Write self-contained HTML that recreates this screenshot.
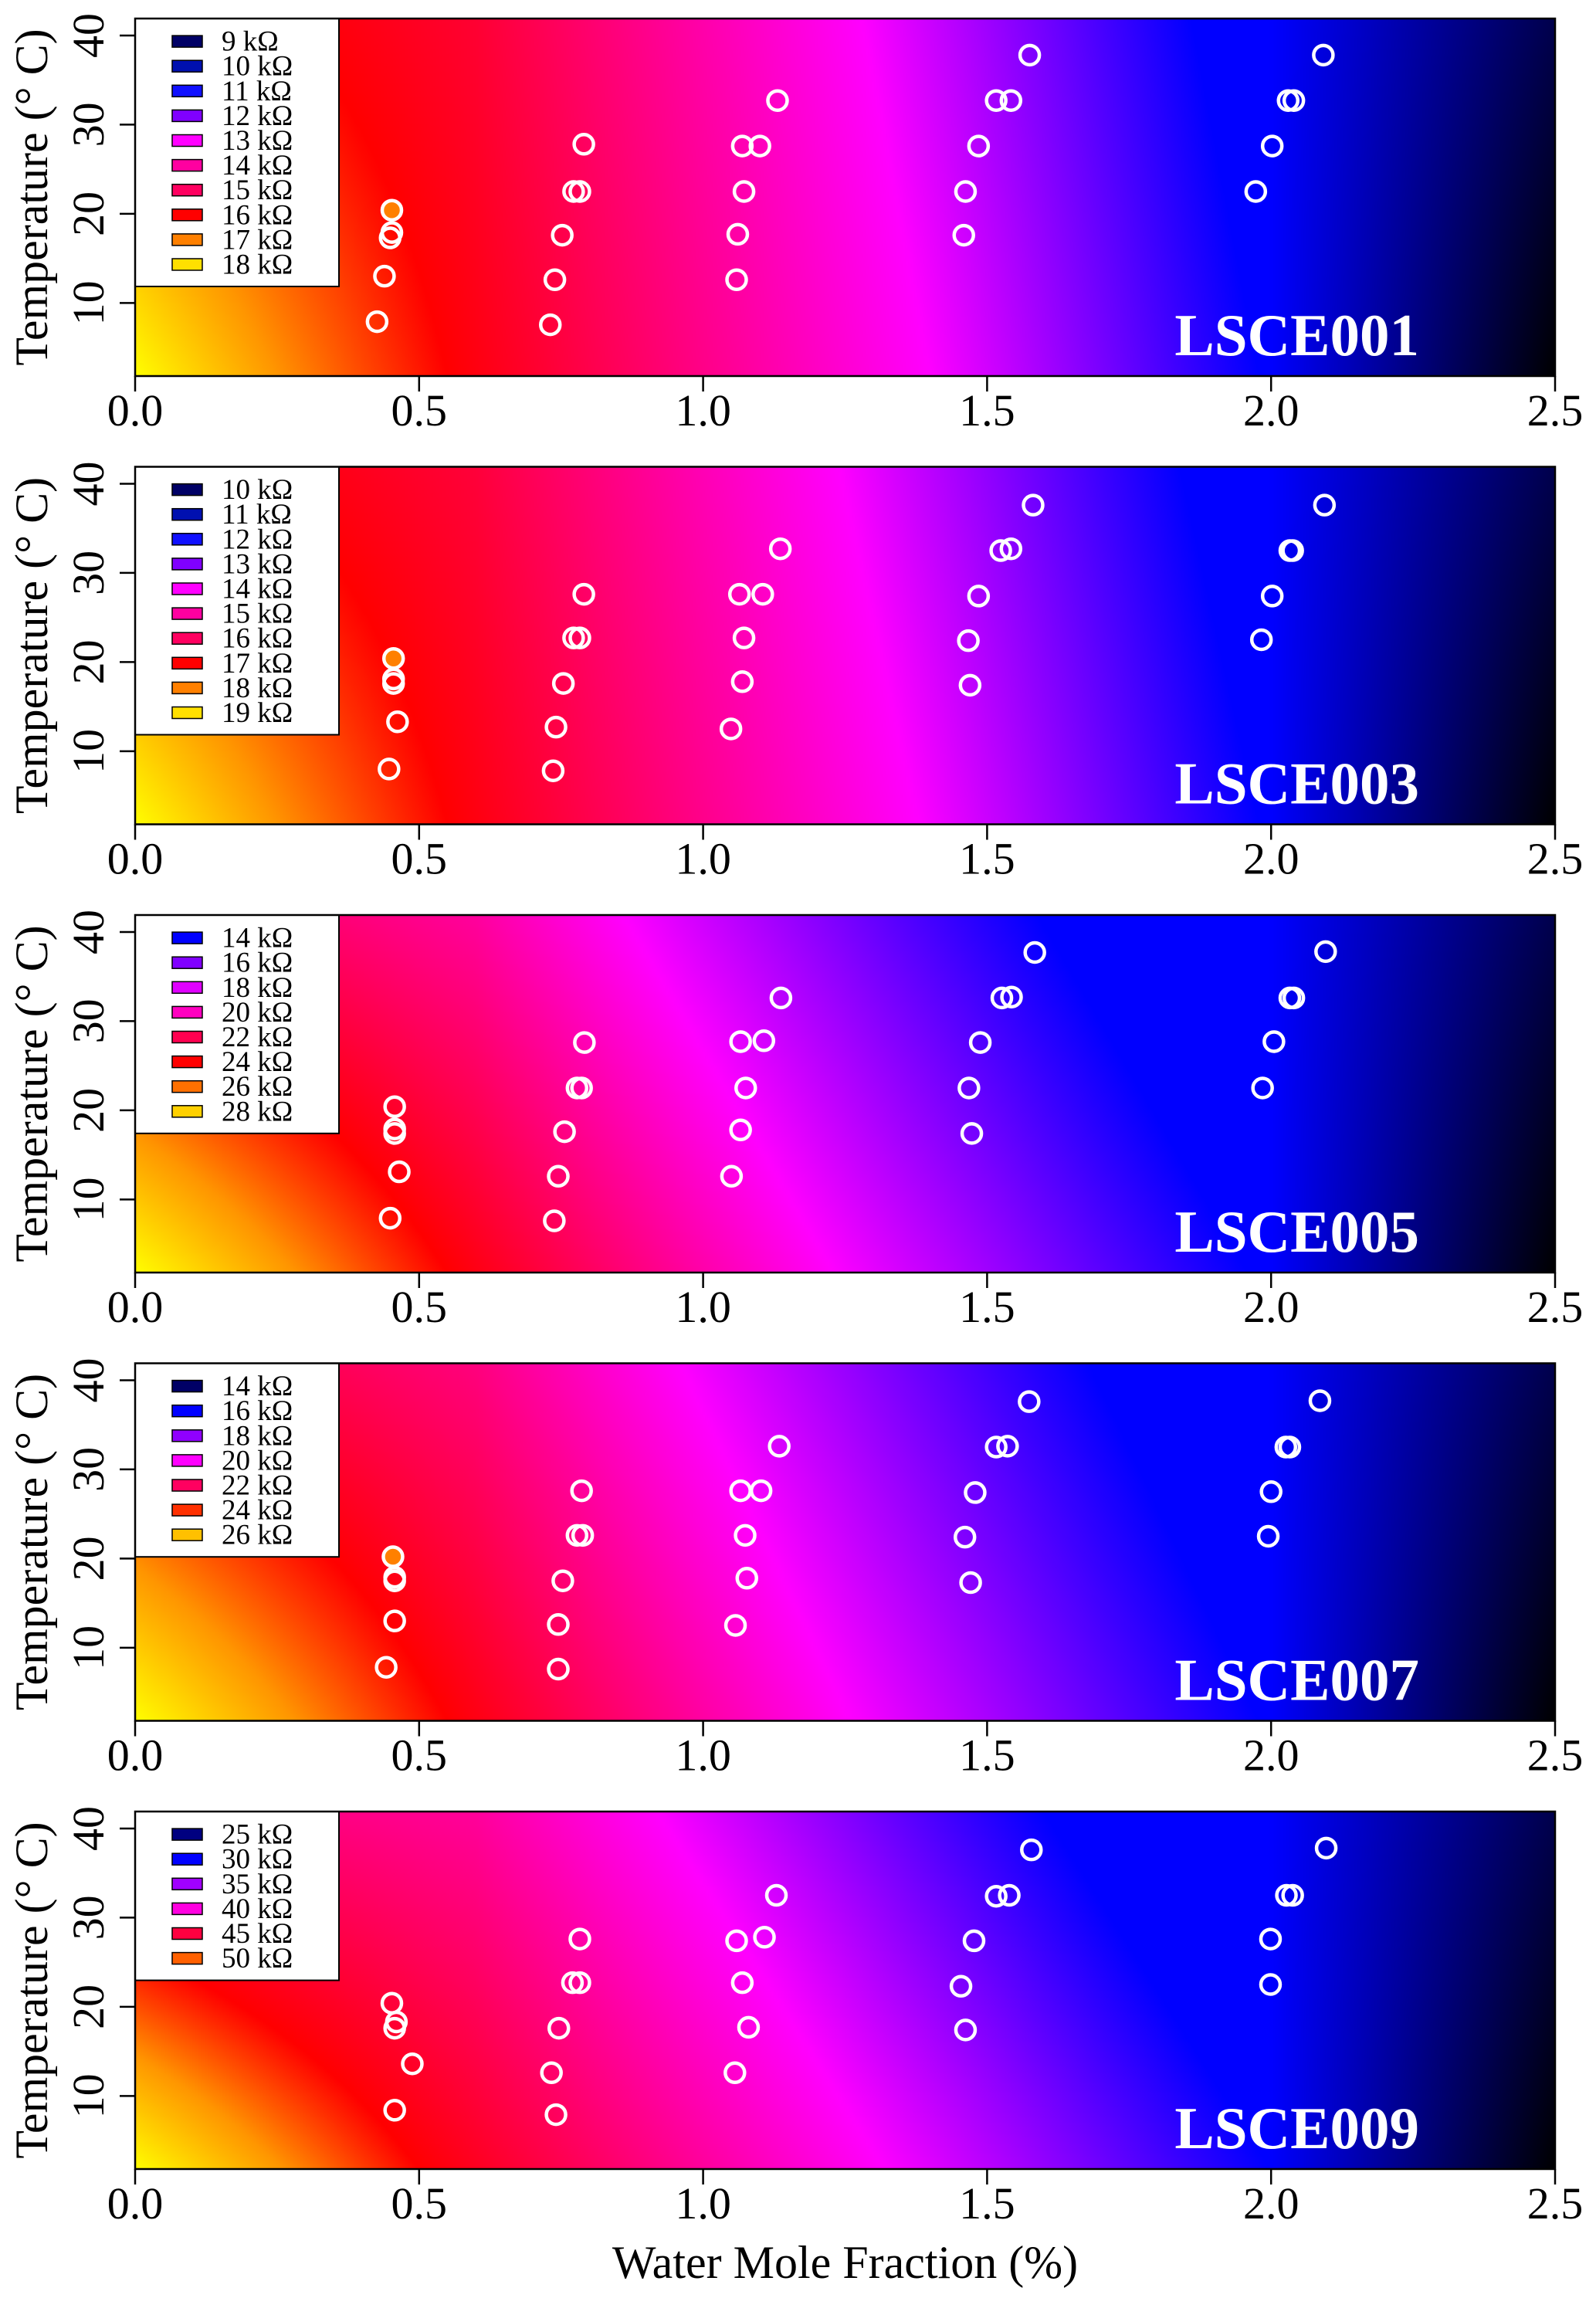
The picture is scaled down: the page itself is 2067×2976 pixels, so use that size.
<!DOCTYPE html>
<html><head><meta charset="utf-8"><style>
html,body{margin:0;padding:0;background:#fff;}
#wrap{position:relative;width:2067px;height:2976px;overflow:hidden;}
canvas{position:absolute;}
svg{position:absolute;left:0;top:0;}
text{font-family:"Liberation Serif",serif;}
</style></head><body>
<div id="wrap"></div>
<script>
// ---- data ----
const panelNames = ["LSCE001","LSCE003","LSCE005","LSCE007","LSCE009"];
const xTicks = [0,0.5,1.0,1.5,2.0,2.5];
const xTickLabels = ["0.0","0.5","1.0","1.5","2.0","2.5"];
const yTicks = [10,20,30,40];
const yTickLabels = ["10","20","30","40"];
const legend1 = ["9 kΩ","10 kΩ","11 kΩ","12 kΩ","13 kΩ","14 kΩ","15 kΩ","16 kΩ","17 kΩ","18 kΩ"];
const legend2 = ["10 kΩ","11 kΩ","12 kΩ","13 kΩ","14 kΩ","15 kΩ","16 kΩ","17 kΩ","18 kΩ","19 kΩ"];
const legend3 = ["14 kΩ","16 kΩ","18 kΩ","20 kΩ","22 kΩ","24 kΩ","26 kΩ","28 kΩ"];
const legend4 = ["14 kΩ","16 kΩ","18 kΩ","20 kΩ","22 kΩ","24 kΩ","26 kΩ"];
const legend5 = ["25 kΩ","30 kΩ","35 kΩ","40 kΩ","45 kΩ","50 kΩ"];
const legendCol1 = ["#000066","#0010B0","#1010FF","#8000FF","#FF00FF","#FF00A0","#FF0060","#FF0000","#FF8000","#FFE000"];
const legendCol2 = ["#000066","#0010B0","#1010FF","#8000FF","#FF00FF","#FF00A0","#FF0060","#FF0000","#FF8000","#FFE000"];
const legendCol3 = ["#0000FF","#8000FF","#E000FF","#FF00C0","#FF0050","#FF0000","#FF7000","#FFD000"];
const legendCol4 = ["#000066","#0000FF","#9000FF","#FF00FF","#FF0060","#FF3000","#FFC000"];
const legendCol5 = ["#000080","#0000FF","#A000FF","#FF00E0","#FF0040","#FF6000"];

const p1x = [0.426,0.439,0.449,0.452,0.452,0.731,0.739,0.752,0.772,0.783,0.790,1.059,1.061,1.072,1.069,1.100,1.131,1.459,1.462,1.485,1.516,1.542,1.575,1.973,2.002,2.030,2.040,2.092];
const p1y = [7.9,13.0,17.3,17.9,20.4,7.55,12.6,17.6,22.5,22.5,27.8,12.6,17.7,22.5,27.6,27.6,32.7,17.6,22.5,27.6,32.7,32.7,37.8,22.5,27.6,32.7,32.7,37.8];
const p2x = [0.447,0.462,0.455,0.455,0.455,0.736,0.741,0.754,0.772,0.783,0.790,1.049,1.069,1.072,1.064,1.105,1.136,1.470,1.467,1.485,1.524,1.542,1.581,1.983,2.002,2.033,2.038,2.094];
const p2y = [8.0,13.3,17.6,18.1,20.4,7.8,12.7,17.6,22.7,22.7,27.6,12.5,17.8,22.7,27.6,27.6,32.7,17.4,22.4,27.4,32.5,32.7,37.6,22.5,27.4,32.5,32.5,37.6];
const p3x = [0.449,0.465,0.457,0.457,0.457,0.738,0.745,0.756,0.778,0.786,0.791,1.050,1.066,1.075,1.066,1.107,1.137,1.473,1.468,1.488,1.526,1.543,1.584,1.985,2.005,2.033,2.040,2.096];
const p3y = [7.9,13.1,17.4,17.9,20.4,7.6,12.6,17.6,22.5,22.5,27.6,12.6,17.8,22.5,27.7,27.8,32.6,17.4,22.5,27.6,32.6,32.7,37.7,22.5,27.7,32.6,32.6,37.8];
const p4x = [0.442,0.457,0.457,0.457,0.454,0.745,0.745,0.753,0.778,0.788,0.786,1.057,1.077,1.074,1.066,1.102,1.134,1.471,1.461,1.479,1.516,1.536,1.574,1.995,2.000,2.026,2.033,2.086];
const p4y = [7.8,13.0,17.5,17.9,20.2,7.6,12.6,17.5,22.6,22.6,27.6,12.5,17.8,22.6,27.6,27.6,32.6,17.3,22.4,27.4,32.5,32.6,37.6,22.5,27.5,32.5,32.5,37.7];
const p5x = [0.457,0.488,0.457,0.460,0.452,0.741,0.733,0.746,0.770,0.783,0.783,1.056,1.080,1.069,1.059,1.108,1.129,1.462,1.454,1.477,1.516,1.539,1.578,1.999,1.999,2.027,2.038,2.097];
const p5y = [8.4,13.6,17.6,18.3,20.4,7.9,12.6,17.6,22.7,22.7,27.6,12.6,17.7,22.7,27.4,27.8,32.5,17.4,22.3,27.4,32.4,32.5,37.6,22.5,27.6,32.5,32.5,37.8];
const filledIndex = [4,4,-1,4,-1];

const panelLegends = [legend1,legend2,legend3,legend4,legend5];
const panelLegendCols = [legendCol1,legendCol2,legendCol3,legendCol4,legendCol5];
const panelX = [p1x,p2x,p3x,p4x,p5x];
const panelY = [p1y,p2y,p3y,p4y,p5y];
const tilt = [0.12,0.14,0.37,0.30,0.40];
const tiltLow = [0.30,0.32,0.35,0.35,0.42];
const stopYellow = [0,0,0,0,0];
const stopOrange = [0.25,0.25,0.28,0.28,0.26];
const stopRed = [0.55,0.55,0.55,0.55,0.50];
const stopMagenta = [1.40,1.38,1.23,1.26,1.32];
const stopBlue = [1.98,1.98,1.96,1.98,2.0];

// ---- layout ----
const L=175, R=2014, H=463, TOP0=24, STEP=580.5, XMIN=0, XMAX=2.5, YMIN=1.8, YMAX=41.9;
const NS="http://www.w3.org/2000/svg";
const wrap=document.getElementById('wrap');
const svg=document.createElementNS(NS,'svg');
svg.setAttribute('width','2067');svg.setAttribute('height','2976');


function xs(v){return L+(v-XMIN)/(XMAX-XMIN)*(R-L);}
function ys(v,top){return top+H-(v-YMIN)/(YMAX-YMIN)*H;}
function mk(tag,attrs,parent){const e=document.createElementNS(NS,tag);for(const k in attrs)e.setAttribute(k,attrs[k]);(parent||svg).appendChild(e);return e;}
function lerp(a,b,t){return a+(b-a)*t;}
const YEL=[255,255,0],ORA=[255,150,0],RED=[255,0,0],MAG=[255,0,255],BLU=[0,0,255];
function colorAt(i,x,yn){
  let t=x+tilt[i]*yn+tiltLow[i]*yn*Math.max(0,1-x/0.6);
  const st=[[stopYellow[i],YEL],[stopOrange[i],ORA],[stopRed[i],RED],[stopMagenta[i],MAG],[stopBlue[i],BLU]];
  let c;
  if(t<=st[0][0]) c=YEL; else if(t>=st[4][0]) c=BLU; else {
    for(let k=0;k<4;k++){ if(t>=st[k][0]&&t<=st[k+1][0]){const f=(t-st[k][0])/(st[k+1][0]-st[k][0]);c=[0,1,2].map(j=>lerp(st[k][1][j],st[k+1][1][j],f));break;} }
  }
  const d=Math.min(1,Math.max(0,(x-2.0)/0.5))*(1-0.3*yn);
  return c.map(v=>v*(1-d));
}
for(let i=0;i<5;i++){
  const top=TOP0+STEP*i;
  const cv=document.createElement('canvas');
  const cw=460,ch=116;
  cv.width=cw;cv.height=ch;
  cv.style.left=L+'px';cv.style.top=top+'px';cv.style.width=(R-L)+'px';cv.style.height=H+'px';
  
  
  const ctx=cv.getContext('2d');const img=ctx.createImageData(cw,ch);
  for(let py=0;py<ch;py++){const yn=1-(py+0.5)/ch;for(let px=0;px<cw;px++){const x=(px+0.5)/cw*2.5;const c=colorAt(i,x,yn);const o=(py*cw+px)*4;img.data[o]=c[0];img.data[o+1]=c[1];img.data[o+2]=c[2];img.data[o+3]=255;}}
  ctx.putImageData(img,0,0);
  wrap.appendChild(cv);

  const g=mk('g',{});
  
  
  const X=panelX[i],Y=panelY[i];
  for(let k=0;k<X.length;k++){
    const c=mk('circle',{cx:xs(X[k]),cy:ys(Y[k],top),r:12.5,fill:(k===filledIndex[i]?'#FF8000':'none'),stroke:'#fff','stroke-width':4.5},g);
    
    
  }
  const labs=panelLegends[i],cols=panelLegendCols[i];
  const lh=labs.length*32.1+26;
  const lg=mk('g',{},g);
  
  
  mk('rect',{x:L,y:top,width:264,height:lh,fill:'#fff',stroke:'#000','stroke-width':2},lg);
  for(let k=0;k<labs.length;k++){
    const cy=top+29.6+k*32.1;
    const sw=mk('rect',{x:223,y:cy-7.5,width:39,height:15,fill:cols[k],stroke:'#000','stroke-width':1.5},lg);
    
    
    const t=mk('text',{x:287,y:cy+12,'font-size':37},lg);t.textContent=labs[k];
    
    
  }
  mk('rect',{x:L,y:top,width:R-L,height:H,fill:'none',stroke:'#000','stroke-width':2.5},g);
  const pl=mk('text',{x:1838,y:top+436,'font-size':77,'font-weight':'bold','text-anchor':'end',fill:'#fff'},g);
  pl.textContent=panelNames[i];
  
  
  for(let k=0;k<xTicks.length;k++){
    const x=xs(xTicks[k]);
    mk('line',{x1:x,x2:x,y1:top+H,y2:top+H+20,stroke:'#000','stroke-width':2.5},g);
    const t=mk('text',{x:x,y:top+H+64,'font-size':58,'text-anchor':'middle'},g);t.textContent=xTickLabels[k];
    
    
  }
  for(let k=0;k<yTicks.length;k++){
    const y=ys(yTicks[k],top);
    mk('line',{x1:L,x2:L-20,y1:y,y2:y,stroke:'#000','stroke-width':2.5},g);
    const t=mk('text',{x:0,y:0,'font-size':58,'text-anchor':'middle',transform:`translate(134,${y}) rotate(-90)`},g);t.textContent=yTickLabels[k];
    
    
  }
  const yt=mk('text',{x:0,y:0,'font-size':60,'text-anchor':'middle',transform:`translate(61,${top+H/2}) rotate(-90)`},g);
  yt.textContent='Temperature (° C)';
  
  
}
const xt=mk('text',{x:(L+R)/2,y:2950,'font-size':60,'text-anchor':'middle'});
xt.textContent='Water Mole Fraction (%)';


wrap.appendChild(svg);
</script>
</body></html>
